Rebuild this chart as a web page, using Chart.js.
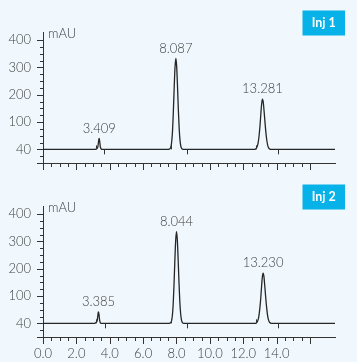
<!DOCTYPE html>
<html><head><meta charset="utf-8">
<script src="https://cdn.jsdelivr.net/npm/chart.js@4/dist/chart.umd.min.js"></script>
<style>
html,body{margin:0;padding:0;background:#f0f8fd;}
#w{position:relative;width:357px;height:362px;overflow:hidden;background:#f0f8fd;}
canvas{position:absolute;left:0;}
#c1{top:0;} #c2{top:174px;}
</style></head><body>
<div id="w"><canvas id="c1" width="357" height="174"></canvas><canvas id="c2" width="357" height="188"></canvas></div>
<script>
// ---- data ----
const xTickValues = [0, 2, 4, 6, 8, 10, 12, 14];
const xTickLabels = ['0.0', '2.0', '4.0', '6.0', '8.0', '10.0', '12.0', '14.0'];
const yTickValues = [0, 100, 200, 300, 400];
const yTickLabels = ['40', '100', '200', '300', '400'];
const unitLabel = 'mAU';
const panelTitles = ['Inj 1', 'Inj 2'];

const times1 = [0, 3.12, 3.17, 3.21, 3.25, 3.29, 3.32, 3.35, 3.37, 3.40, 3.43, 3.47, 3.52,
  7.52, 7.60, 7.66, 7.71, 7.76, 7.81, 7.86, 7.91, 7.96, 8.01, 8.06, 8.11, 8.16, 8.21, 8.26, 8.32, 8.40,
  12.70, 12.77, 12.83, 12.89, 12.95, 13.01, 13.06, 13.11, 13.15, 13.20, 13.25, 13.31, 13.37, 13.43, 13.49, 13.55, 13.64, 17.5];
const signal1 = [0, 0, 1, 2, 4, 10, 24, 37, 40, 28, 12, 3, 0,
  0, 2, 8, 26, 65, 135, 222, 298, 333, 305, 232, 148, 78, 34, 12, 3, 0,
  0, 3, 9, 23, 50, 90, 134, 170, 184, 173, 140, 95, 55, 26, 10, 3, 0, 0];

const times2 = [0, 3.08, 3.13, 3.17, 3.21, 3.25, 3.28, 3.31, 3.33, 3.36, 3.39, 3.43, 3.48,
  7.56, 7.64, 7.70, 7.75, 7.80, 7.85, 7.90, 7.95, 8.00, 8.05, 8.10, 8.15, 8.20, 8.25, 8.30, 8.36, 8.44,
  12.74, 12.81, 12.87, 12.93, 12.99, 13.05, 13.10, 13.15, 13.19, 13.24, 13.29, 13.35, 13.41, 13.47, 13.53, 13.59, 13.68, 17.5];
const signal2 = [0, 0, 1, 3, 5, 11, 25, 39, 42, 30, 13, 3, 0,
  0, 2, 8, 27, 67, 138, 226, 302, 336, 306, 233, 150, 79, 35, 12, 3, 0,
  0, 3, 9, 24, 52, 92, 136, 172, 184, 172, 138, 93, 54, 25, 10, 3, 0, 0];

const peakTimes1 = [3.37, 7.96, 13.15];
const peakHeights1 = [40, 333, 184];
const peakLabels1 = ['3.409', '8.087', '13.281'];
const peakTimes2 = [3.33, 8.00, 13.19];
const peakHeights2 = [42, 336, 184];
const peakLabels2 = ['3.385', '8.044', '13.230'];

const startMarks1 = [3.18, 7.66, 12.76];
const endMarks1 = [3.66, 8.62, 14.1];
const startMarks2 = [3.16, 7.66, 12.76];
const endMarks2 = [3.70, 8.66, 14.1];

// ---- style ----
const INK = '#333333';
const TXT = '#404040';
const BADGE = '#06b2e8';
const FONT = 'Lato, "Open Sans", sans-serif';

const extras = {
  id: 'extras',
  afterDraw(chart, args, o) {
    const {ctx, scales: {x, y}, chartArea: a} = chart;
    ctx.save();
    ctx.strokeStyle = INK;
    ctx.lineWidth = 1;
    ctx.beginPath();
    // x tick marks (every 0.5, major every 2)
    for (let v = 0; v <= 16.001; v += 0.5) {
      const px = Math.round(x.getPixelForValue(v)) + 0.5;
      const len = (Math.abs(v / 2 - Math.round(v / 2)) < 1e-6) ? 7 : 4;
      ctx.moveTo(px, a.bottom);
      ctx.lineTo(px, a.bottom + len);
    }
    // y tick marks (every 25, major every 100 and at axis bottom)
    for (let v = -50; v <= 400.001; v += 25) {
      const py = Math.round(y.getPixelForValue(v)) + 0.5;
      const major = (v % 100 === 0) || v === -50;
      ctx.moveTo(a.left, py);
      ctx.lineTo(a.left - (major ? 6 : 3), py);
    }
    // peak start / end markers on baseline
    const by = y.getPixelForValue(0);
    o.starts.forEach(t => {
      const px = Math.round(x.getPixelForValue(t)) + 0.5;
      ctx.moveTo(px, by); ctx.lineTo(px, by - 4);
    });
    o.ends.forEach(t => {
      const px = Math.round(x.getPixelForValue(t)) + 0.5;
      ctx.moveTo(px, by); ctx.lineTo(px, by + 5);
    });
    ctx.stroke();

    // peak labels
    ctx.fillStyle = TXT;
    ctx.font = '300 13px ' + FONT;
    ctx.textAlign = 'center';
    ctx.textBaseline = 'middle';
    o.peakTimes.forEach((t, i) => {
      ctx.fillText(o.peakLabels[i], x.getPixelForValue(t), y.getPixelForValue(o.peakHeights[i]) - 10);
    });
    // unit label
    ctx.textAlign = 'left';
    ctx.fillText(unitLabel, a.left + 5, a.top + 2);
    // badge
    ctx.fillStyle = BADGE;
    ctx.fillRect(302.5, 10.5, 42.5, 25);
    ctx.fillStyle = '#ffffff';
    ctx.font = 'bold 12.5px ' + FONT;
    ctx.textAlign = 'center';
    ctx.fillText(o.title, 323.7, 23.3);
    ctx.restore();
  }
};

function makeChart(id, times, signal, showX, extraOpts, canvasH) {
  const pts = times.map((t, i) => ({x: t, y: signal[i]}));
  return new Chart(document.getElementById(id), {
    type: 'line',
    data: {datasets: [{data: pts, borderColor: '#262626', borderWidth: 1.3, pointRadius: 0,
      cubicInterpolationMode: 'monotone', fill: false}]},
    options: {
      responsive: false, animation: false,
      layout: {padding: {top: 32, right: 22, left: 0, bottom: 0}},
      plugins: {legend: {display: false}, tooltip: {enabled: false}, extras: extraOpts},
      scales: {
        x: {
          type: 'linear', min: 0, max: 17.5,
          grid: {display: false, drawTicks: false},
          border: {display: true, color: INK, width: 1},
          afterBuildTicks: s => { s.ticks = xTickValues.map(v => ({value: v})); },
          afterFit: s => { s.height = canvasH - 163; s.paddingLeft = 0; s.paddingRight = 0; },
          ticks: {display: showX, autoSkip: false, maxRotation: 0, padding: 9,
            color: TXT, font: {family: FONT, size: 13, weight: '300'},
            callback: (v, i) => xTickLabels[i]}
        },
        y: {
          type: 'linear', min: -50, max: 430,
          grid: {display: false, drawTicks: false},
          border: {display: true, color: INK, width: 1},
          afterBuildTicks: s => { s.ticks = yTickValues.map(v => ({value: v})); },
          afterFit: s => { s.width = 43; s.paddingTop = 0; s.paddingBottom = 0; },
          ticks: {padding: 12, color: TXT, font: {family: FONT, size: 13, weight: '300'},
            callback: (v, i) => yTickLabels[i]}
        }
      }
    },
    plugins: [extras]
  });
}

makeChart('c1', times1, signal1, false,
  {starts: startMarks1, ends: endMarks1, peakTimes: peakTimes1, peakHeights: peakHeights1, peakLabels: peakLabels1, title: panelTitles[0]}, 174);
makeChart('c2', times2, signal2, true,
  {starts: startMarks2, ends: endMarks2, peakTimes: peakTimes2, peakHeights: peakHeights2, peakLabels: peakLabels2, title: panelTitles[1]}, 188);
</script>
</body></html>
